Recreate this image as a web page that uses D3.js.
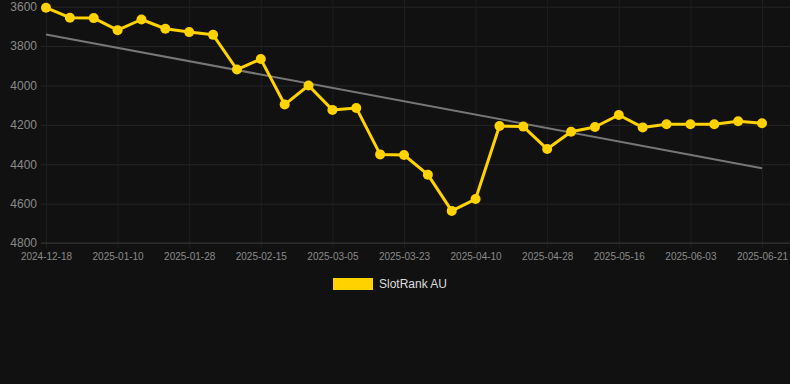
<!DOCTYPE html>
<html>
<head>
<meta charset="utf-8">
<script src="https://cdn.jsdelivr.net/npm/d3@7"></script>
<style>
  html, body { margin: 0; padding: 0; background: #111111; }
  svg { display: block; font-family: "Liberation Sans", Arial, sans-serif; }
</style>
</head>
<body>
<div id="chart"></div>
<script>
// dates on the x axis (category axis, evenly spaced)
var dates = [
    "2024-12-18", "2024-12-26", "2025-01-03", "2025-01-10", "2025-01-16", "2025-01-22",
    "2025-01-28", "2025-02-03", "2025-02-09", "2025-02-15", "2025-02-21", "2025-02-27",
    "2025-03-05", "2025-03-11", "2025-03-17", "2025-03-23", "2025-03-29", "2025-04-04",
    "2025-04-10", "2025-04-16", "2025-04-22", "2025-04-28", "2025-05-04", "2025-05-10",
    "2025-05-16", "2025-05-22", "2025-05-28", "2025-06-03", "2025-06-09", "2025-06-15",
    "2025-06-21"
];
// SlotRank AU rank values
var rankValues = [
    3605, 3656, 3658, 3719, 3665, 3712, 3729, 3743, 3919, 3866,
    4097, 4000, 4124, 4114, 4350, 4353, 4453, 4637, 4577, 4206,
    4209, 4323, 4235, 4211, 4150, 4213, 4197, 4197, 4197, 4182,
    4192
];
var yTicks = [3600, 3800, 4000, 4200, 4400, 4600, 4800];
var xTickLabels = ["2024-12-18", "2025-01-10", "2025-01-28", "2025-02-15", "2025-03-05",
    "2025-03-23", "2025-04-10", "2025-04-28", "2025-05-16", "2025-06-03", "2025-06-21"];
var seriesName = "SlotRank AU";

var width = 790, height = 384;
var plot = {left: 41, right: 790, top: 6.7, bottom: 243};

var svg = d3.select("#chart").append("svg")
    .attr("width", width)
    .attr("height", height);

svg.append("rect")
    .attr("width", width).attr("height", height)
    .attr("fill", "#111111");

var x = d3.scalePoint()
    .domain(dates)
    .range([46, 762]);

var y = d3.scaleLinear()
    .domain([3600, 4800])
    .range([plot.top, plot.bottom]);

// horizontal grid + y labels
var yAxis = svg.append("g")
    .attr("transform", `translate(${plot.left},0)`)
    .call(d3.axisLeft(y).tickValues(yTicks).tickSize(-(plot.right - plot.left)).tickPadding(4).tickFormat(d3.format("d")));
yAxis.select(".domain").remove();
yAxis.selectAll(".tick line").attr("stroke", "#262626").attr("stroke-width", 1);
yAxis.selectAll(".tick text")
    .attr("fill", "#8a8a8a")
    .attr("font-size", "12px")
    .attr("font-family", "Liberation Sans, Arial, sans-serif");

// vertical grid + x labels
var xAxis = svg.append("g")
    .attr("transform", `translate(0,${plot.bottom + 5})`)
    .call(d3.axisBottom(x).tickValues(xTickLabels).tickSize(-(plot.bottom + 5)).tickPadding(5));
xAxis.select(".domain").remove();
xAxis.selectAll(".tick line").attr("stroke", "#1f1f1f").attr("stroke-width", 1);
xAxis.selectAll(".tick text")
    .attr("fill", "#8a8a8a")
    .attr("font-size", "10px")
    .attr("font-family", "Liberation Sans, Arial, sans-serif");

// bottom axis line
svg.append("line")
    .attr("x1", plot.left).attr("x2", plot.right)
    .attr("y1", plot.bottom).attr("y2", plot.bottom)
    .attr("stroke", "#333333");

// linear regression trend line
var n = rankValues.length;
var meanI = d3.mean(rankValues, (d, i) => i);
var meanV = d3.mean(rankValues);
var slope = d3.sum(rankValues, (d, i) => (i - meanI) * (d - meanV)) /
    d3.sum(rankValues, (d, i) => (i - meanI) * (i - meanI));
var intercept = meanV - slope * meanI;
var trend = [0, n - 1].map(i => ({date: dates[i], value: intercept + slope * i}));

svg.append("path")
    .datum(trend)
    .attr("fill", "none")
    .attr("stroke", "#777777")
    .attr("stroke-width", 2)
    .attr("d", d3.line().x(d => x(d.date)).y(d => y(d.value)));

// series line
var series = dates.map((d, i) => ({date: d, value: rankValues[i]}));

svg.append("path")
    .datum(series)
    .attr("fill", "none")
    .attr("stroke", "#FFD200")
    .attr("stroke-width", 3)
    .attr("stroke-linejoin", "round")
    .attr("d", d3.line().x(d => x(d.date)).y(d => y(d.value)));

svg.selectAll(".dot")
    .data(series)
    .enter()
    .append("circle")
    .attr("class", "dot")
    .attr("cx", d => x(d.date))
    .attr("cy", d => y(d.value))
    .attr("r", 5)
    .attr("fill", "#FFD200");

// legend
var legend = svg.append("g").attr("transform", "translate(333,278)");
legend.append("rect")
    .attr("width", 40).attr("height", 12)
    .attr("fill", "#FFD200");
legend.append("text")
    .attr("x", 46).attr("y", 6)
    .attr("dy", "0.35em")
    .attr("fill", "#dddddd")
    .attr("font-size", "12px")
    .text(seriesName);
</script>
</body>
</html>
